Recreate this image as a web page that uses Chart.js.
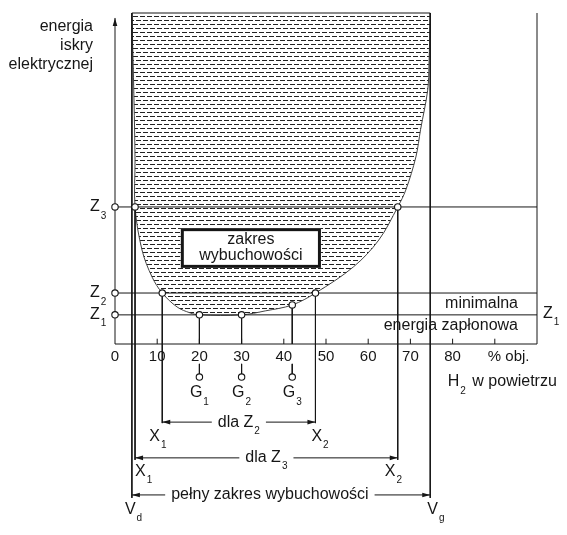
<!DOCTYPE html>
<html>
<head>
<meta charset="utf-8">
<script src="https://cdn.jsdelivr.net/npm/chart.js@4.4.1/dist/chart.umd.min.js"></script>
<style>
  body { margin: 0; background: #fff; }
  canvas { display: block; }
</style>
</head>
<body>
<canvas id="chart" width="567" height="535"></canvas>
<script>
// H2 in air, % obj.
const xTicks = [0, 10, 20, 30, 40, 50, 60, 70, 80];
const xTickMarks = [10, 20, 30, 40, 50, 60, 70, 80, 90];
// boundary of the explosive range (spark energy in relative units, 100 = top)
const curveX = [4.0, 4.5, 4.75, 4.75, 6.4, 8.8, 11.2, 14.7, 17.8, 20, 30, 35.6, 42, 47.5, 56.5, 62.5, 67, 68.9, 71.3, 72.4, 74.1, 74.4, 74.7];
const curveY = [100, 73.7, 55.6, 41.4, 28.4, 20.2, 15.4, 11.2, 9.4, 8.8, 8.8, 10.0, 11.8, 15.4, 23.3, 31.4, 41.4, 46.5, 56.5, 64.7, 76.7, 84.3, 100];
const zNames = ['1', '2', '3'];
const zLevels = [8.8, 15.4, 41.4];
const vd = 4.0, vg = 74.7;
const rangeZ2 = [11.2, 47.5];
const rangeZ3 = [4.75, 67];
const gNames = ['1', '2', '3'];
const gX = [20, 30, 42];
const gY = [8.8, 8.8, 11.8];

const ink = '#161616';
const FONT = '"Liberation Sans", Arial, sans-serif';
const yTop = 100;
const frameRight = 100;

const ctx0 = document.getElementById('chart').getContext('2d');

function hatchPattern() {
  const c = document.createElement('canvas');
  c.width = 14; c.height = 8;
  const g = c.getContext('2d');
  g.fillStyle = '#fff';
  g.fillRect(0, 0, 14, 8);
  g.fillStyle = '#222';
  g.fillRect(0, 0, 5, 1); g.fillRect(7, 0, 5, 1);
  g.fillRect(3, 4, 5, 1); g.fillRect(10, 4, 4, 1); g.fillRect(0, 4, 1, 1);
  return ctx0.createPattern(c, 'repeat');
}

function segs(list) {
  const out = [];
  list.forEach(([x1, y1, x2, y2]) => {
    out.push({x: x1, y: y1}, {x: x2, y: y2}, {x: x2, y: null});
  });
  return out;
}

function lineDs(data, extra) {
  return Object.assign({data, borderColor: ink, borderWidth: 1, pointRadius: 0, tension: 0, fill: false}, extra || {});
}

const circles = [];
zLevels.forEach(z => circles.push({x: 0, y: z}));
circles.push({x: rangeZ3[0], y: zLevels[2]}, {x: rangeZ3[1], y: zLevels[2]});
circles.push({x: rangeZ2[0], y: zLevels[1]}, {x: rangeZ2[1], y: zLevels[1]});
gX.forEach((x, i) => circles.push({x, y: gY[i]}, {x, y: -10}));

const datasets = [
  {
    data: circles, showLine: false, order: -1,
    pointRadius: 3.2, pointStyle: 'circle',
    pointBackgroundColor: '#fff', pointBorderColor: ink, pointBorderWidth: 1.1
  },
  lineDs(curveX.map((x, i) => ({x, y: curveY[i]})), {
    tension: 0.35, order: 10, borderColor: '#444',
    fill: {target: {value: yTop}}, backgroundColor: hatchPattern()
  }),
  lineDs(segs([[vd, yTop, vg, yTop]])),
  lineDs([{x: 0, y: 0}, {x: 0, y: 98.5}], {arrow: 'end'}),
  lineDs(segs([[0, 0, frameRight, 0], [frameRight, 0, frameRight, yTop]])),
  lineDs(segs(zLevels.map(z => [0, z, frameRight, z]))),
  lineDs(segs(xTickMarks.map(t => [t, 0, t, 1.6]))),
  lineDs(segs([[vd, yTop, vd, -46.5], [vg, yTop, vg, -46.5]])),
  lineDs(segs([[rangeZ3[0], zLevels[2], rangeZ3[0], -35], [rangeZ3[1], zLevels[2], rangeZ3[1], -35]])),
  lineDs(segs([[rangeZ2[0], zLevels[1], rangeZ2[0], -23.9], [rangeZ2[1], zLevels[1], rangeZ2[1], -23.9]])),
  lineDs(segs(gX.map((x, i) => [x, gY[i], x, 0]))),
  lineDs(segs(gX.map(x => [x, -6, x, -9.1]))),
  lineDs([{x: rangeZ2[0], y: -23.6}, {x: rangeZ2[1], y: -23.6}], {arrow: 'both'}),
  lineDs([{x: rangeZ3[0], y: -34.4}, {x: rangeZ3[1], y: -34.4}], {arrow: 'both'}),
  lineDs([{x: vd, y: -45.6}, {x: vg, y: -45.6}], {arrow: 'both'})
];

const arrowHeads = {
  id: 'arrowHeads',
  afterDatasetsDraw(chart) {
    const ctx = chart.ctx;
    chart.data.datasets.forEach((ds, i) => {
      if (!ds.arrow) return;
      const pts = chart.getDatasetMeta(i).data;
      const ends = [];
      if (ds.arrow !== 'end') ends.push([pts[0], pts[1]]);
      if (ds.arrow !== 'start') ends.push([pts[pts.length - 1], pts[pts.length - 2]]);
      ends.forEach(([tip, from]) => {
        const a = Math.atan2(tip.y - from.y, tip.x - from.x);
        ctx.save();
        ctx.translate(tip.x, tip.y);
        ctx.rotate(a);
        ctx.beginPath();
        ctx.moveTo(0, 0); ctx.lineTo(-8, -2.3); ctx.lineTo(-8, 2.3);
        ctx.closePath();
        ctx.fillStyle = ink;
        ctx.fill();
        ctx.restore();
      });
    });
  }
};

function label(ctx, main, sub, x, y, align, size, bg) {
  size = size || 16;
  const big = size + 'px ' + FONT, small = Math.round(size * 0.6) + 'px ' + FONT;
  ctx.font = big;
  const w = ctx.measureText(main).width;
  ctx.font = small;
  const ws = sub ? ctx.measureText(sub).width + 1 : 0;
  const left = align === 'center' ? x - (w + ws) / 2 : align === 'right' ? x - w - ws : x;
  if (bg) {
    ctx.fillStyle = '#fff';
    ctx.fillRect(left - bg, y - 7, w + ws + 2 * bg, 16);
  }
  ctx.fillStyle = ink;
  ctx.textAlign = 'left';
  ctx.textBaseline = 'middle';
  ctx.font = big;
  ctx.fillText(main, left, y);
  if (sub) {
    ctx.font = small;
    ctx.fillText(sub, left + w + 1, y + size * 0.55);
  }
  return left + w + ws;
}

const texts = {
  id: 'texts',
  afterDatasetsDraw(chart) {
    const ctx = chart.ctx;
    const X = v => chart.scales.x.getPixelForValue(v);
    const Y = v => chart.scales.y.getPixelForValue(v);
    ctx.save();
    // axis title
    ['energia', 'iskry', 'elektrycznej'].forEach((t, i) => label(ctx, t, '', X(0) - 22, Y(yTop) + 14 + i * 19, 'right'));
    // x tick labels
    xTicks.forEach(t => label(ctx, String(t), '', X(t), Y(0) + 13, 'center', 15));
    label(ctx, '% obj.', '', X(90) - 7, Y(0) + 13, 'left', 15);
    const e = label(ctx, 'H', '2', X(90) - 47, Y(0) + 38, 'left');
    label(ctx, ' w powietrzu', '', e + 2, Y(0) + 38, 'left');
    // energy levels
    zLevels.forEach((z, i) => label(ctx, 'Z', zNames[i], X(0) - 25, Y(z), 'left'));
    label(ctx, 'Z', '1', X(frameRight) + 6, Y(zLevels[0]) - 1, 'left');
    label(ctx, 'minimalna', '', X(frameRight) - 19, (Y(zLevels[0]) + Y(zLevels[1])) / 2, 'right');
    label(ctx, 'energia zapłonowa', '', X(frameRight) - 19, Y(zLevels[0]) + 11, 'right');
    // ignition points
    gX.forEach((x, i) => label(ctx, 'G', gNames[i], X(x), Y(0) + 49, 'center'));
    // range labels
    label(ctx, 'X', '1', X(rangeZ2[0]) - 13, Y(-23.6) + 14, 'left');
    label(ctx, 'X', '2', X(rangeZ2[1]) - 4, Y(-23.6) + 14, 'left');
    label(ctx, 'X', '1', X(rangeZ3[0]), Y(-34.4) + 14, 'left');
    label(ctx, 'X', '2', X(rangeZ3[1]) - 13, Y(-34.4) + 14, 'left');
    label(ctx, 'V', 'd', X(vd) - 7, Y(-45.6) + 15, 'left');
    label(ctx, 'V', 'g', X(vg) - 3, Y(-45.6) + 15, 'left');
    label(ctx, 'dla Z', '2', X((rangeZ2[0] + rangeZ2[1]) / 2), Y(-23.6), 'center', 16, 6);
    label(ctx, 'dla Z', '3', X((rangeZ3[0] + rangeZ3[1]) / 2), Y(-34.4), 'center', 16, 6);
    label(ctx, 'pełny zakres wybuchowości', '', X(36.7), Y(-45.6), 'center', 16, 6);
    // explosive range box
    const bx1 = X(15.6), bx2 = X(48.8), by1 = Y(35), by2 = Y(23);
    ctx.fillStyle = '#fff';
    ctx.fillRect(bx1, by1, bx2 - bx1, by2 - by1);
    ctx.strokeStyle = ink;
    ctx.lineWidth = 3;
    ctx.strokeRect(bx1 + 1.5, by1 + 1.5, bx2 - bx1 - 3, by2 - by1 - 3);
    label(ctx, 'zakres', '', (bx1 + bx2) / 2, (by1 + by2) / 2 - 8, 'center');
    label(ctx, 'wybuchowości', '', (bx1 + bx2) / 2, (by1 + by2) / 2 + 8, 'center');
    ctx.restore();
  }
};

new Chart(ctx0, {
  type: 'line',
  data: {datasets},
  options: {
    responsive: false,
    animation: false,
    events: [],
    layout: {padding: 0, autoPadding: false},
    plugins: {legend: {display: false}, tooltip: {enabled: false}, colors: {enabled: false}},
    scales: {
      x: {type: 'linear', display: false, min: -115 / 4.22, max: 452 / 4.22},
      y: {type: 'linear', display: false, min: -191 / 3.31, max: 344 / 3.31}
    }
  },
  plugins: [arrowHeads, texts]
});
</script>
</body>
</html>
